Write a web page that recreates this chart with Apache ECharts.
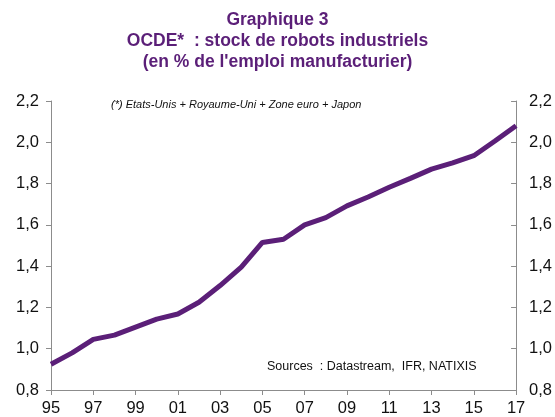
<!DOCTYPE html>
<html>
<head>
<meta charset="utf-8">
<script src="https://cdn.jsdelivr.net/npm/echarts@6/dist/echarts.min.js"></script>
<style>
  html, body { margin: 0; padding: 0; background: #fff; }
  #chart { width: 555px; height: 417px; }
</style>
</head>
<body>
<div id="chart"></div>
<script>
// années (axe x)
const years = ['95', '96', '97', '98', '99', '00', '01', '02', '03', '04', '05', '06',
    '07', '08', '09', '10', '11', '12', '13', '14', '15', '16', '17'];
// stock de robots, % de l'emploi manufacturier
const robotStock = [0.925, 0.98, 1.045, 1.066, 1.105, 1.143, 1.168, 1.225, 1.306, 1.395, 1.515, 1.53,
    1.60, 1.635, 1.692, 1.735, 1.782, 1.825, 1.87, 1.9, 1.935, 2.006, 2.08];

const purple = '#5b1f78';
const fontFamily = 'Arial, "Liberation Sans", sans-serif';

const chart = echarts.init(document.getElementById('chart'));

const yAxisBase = (pos, inside, margin) => ({
    type: 'value',
    position: pos,
    min: 0.8,
    max: 2.2,
    interval: 0.2,
    axisLine: { show: true, lineStyle: { color: '#8c8c8c', width: 1 } },
    axisTick: { show: true, inside: inside, length: 5, lineStyle: { color: '#8c8c8c' } },
    splitLine: { show: false },
    axisLabel: {
        margin: margin,
        color: '#111',
        fontSize: 16.5,
        fontFamily: fontFamily,
        formatter: (v) => v.toFixed(1).replace('.', ',')
    }
});

const option = {
    animation: false,
    backgroundColor: '#fff',
    title: {
        text: "Graphique 3\nOCDE*  : stock de robots industriels\n(en % de l'emploi manufacturier)",
        left: 'center',
        top: 5,
        textStyle: {
            color: purple,
            fontSize: 17.5,
            fontWeight: 'bold',
            fontFamily: fontFamily,
            lineHeight: 21
        }
    },
    grid: { left: 51, right: 38, top: 101, bottom: 25 },
    xAxis: {
        type: 'category',
        data: years,
        boundaryGap: false,
        axisLine: { lineStyle: { color: '#8c8c8c', width: 1 } },
        axisTick: { show: true, interval: 1, length: 5, lineStyle: { color: '#8c8c8c' } },
        axisLabel: {
            interval: 1,
            margin: 10,
            color: '#111',
            fontSize: 16.5,
            fontFamily: fontFamily
        }
    },
    yAxis: [
        yAxisBase('left', false, 12),
        yAxisBase('right', true, 13)
    ],
    series: [
        {
            name: 'Stock de robots',
            type: 'line',
            data: robotStock,
            showSymbol: false,
            lineStyle: { color: purple, width: 5 },
            itemStyle: { color: purple }
        }
    ],
    graphic: [
        {
            type: 'text',
            left: 111,
            top: 99,
            style: {
                text: '(*) Etats-Unis + Royaume-Uni + Zone euro + Japon',
                fill: '#111',
                fontSize: 11,
                fontStyle: 'italic',
                fontFamily: fontFamily
            }
        },
        {
            type: 'text',
            left: 267,
            top: 360,
            style: {
                text: 'Sources  : Datastream,  IFR, NATIXIS',
                fill: '#111',
                fontSize: 12.5,
                fontFamily: fontFamily
            }
        }
    ]
};

chart.setOption(option);
</script>
</body>
</html>
